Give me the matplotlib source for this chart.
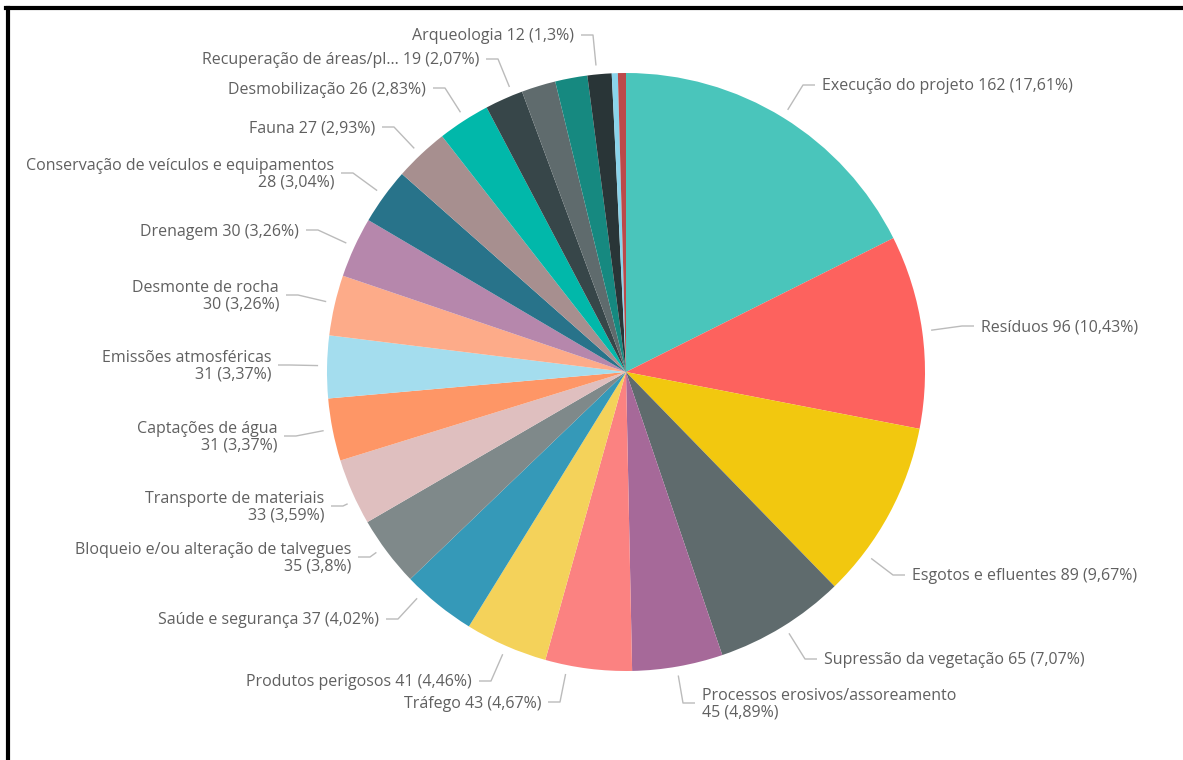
import matplotlib.pyplot as plt
from matplotlib.lines import Line2D

# categorias e contagens (ordem horária a partir do topo)
categorias = [
    "Execução do projeto", "Resíduos", "Esgotos e efluentes",
    "Supressão da vegetação", "Processos erosivos/assoreamento", "Tráfego",
    "Produtos perigosos", "Saúde e segurança",
    "Bloqueio e/ou alteração de talvegues", "Transporte de materiais",
    "Captações de água", "Emissões atmosféricas", "Desmonte de rocha",
    "Drenagem", "Conservação de veículos e equipamentos", "Fauna",
    "Desmobilização", "Recuperação de áreas/pl...", "", "", "Arqueologia",
    "", "",
]
valores = [162, 96, 89, 65, 45, 43, 41, 37, 35, 33, 31, 31, 30, 30, 28, 27,
           26, 19, 17, 16, 12, 3, 4]
cores = [
    "#4AC5BB", "#FD625E", "#F2C80F", "#5F6B6D", "#A66999", "#FB8281",
    "#F4D25A", "#3599B8", "#7F898A", "#DFBFBF", "#FE9666", "#A4DDEE",
    "#FDAB89", "#B687AC", "#28738A", "#A78F8F", "#01B8AA", "#374649",
    "#5F6B6D", "#168980", "#293537", "#8AD4EB", "#BB4A4A",
]
# rótulos em duas linhas
quebra = {"Processos erosivos/assoreamento", "Bloqueio e/ou alteração de talvegues",
          "Transporte de materiais", "Captações de água", "Emissões atmosféricas",
          "Desmonte de rocha", "Conservação de veículos e equipamentos"}

# cotovelo das linhas-guia (pixels) e lado do rótulo
cotovelos = {
    "Execução do projeto": (803, 85, "r"),
    "Resíduos": (962, 326, "r"),
    "Esgotos e efluentes": (893, 575, "r"),
    "Supressão da vegetação": (805, 659, "r"),
    "Processos erosivos/assoreamento": (683, 703, "r"),
    "Tráfego": (560, 702, "l"),
    "Produtos perigosos": (491, 681, "l"),
    "Saúde e segurança": (398, 619, "l"),
    "Bloqueio e/ou alteração de talvegues": (370, 557, "l"),
    "Transporte de materiais": (343, 506, "l"),
    "Captações de água": (296, 436, "l"),
    "Emissões atmosféricas": (290, 365, "l"),
    "Desmonte de rocha": (298, 295, "l"),
    "Drenagem": (318, 230, "l"),
    "Conservação de veículos e equipamentos": (353, 173, "l"),
    "Fauna": (394, 127, "l"),
    "Desmobilização": (445, 88, "l"),
    "Recuperação de áreas/pl...": (498, 59, "l"),
    "Arqueologia": (593, 35, "l"),
}

W, H = 1183, 760
CX, CY, R = 626, 372, 299


def px(x, y):
    return (x - CX) / R, (CY - y) / R


total = sum(valores)

fig = plt.figure(figsize=(W / 100, H / 100), dpi=100)
ax = fig.add_axes([0, 0, 1, 1])
ax.pie(valores, colors=cores, startangle=90, counterclock=False, radius=1,
       wedgeprops=dict(linewidth=0))
ax.set_xlim(-CX / R, (W - CX) / R)
ax.set_ylim((CY - H) / R, CY / R)
ax.set_aspect("equal")
ax.axis("off")

fonte = dict(family="Open Sans", fontsize=11.5, color="#606060")
for nome, v in zip(categorias, valores):
    if nome not in cotovelos:
        continue
    ex, ey, lado = cotovelos[nome]
    bx, by = px(ex, ey)
    d = (bx ** 2 + by ** 2) ** 0.5
    sx, sy = bx / d * 1.03, by / d * 1.03
    pct = f"{100 * v / total:.2f}".rstrip("0").rstrip(".").replace(".", ",")
    sep = "\n" if nome in quebra else " "
    txt = f"{nome}{sep}{v} ({pct}%)"
    sinal = 1 if lado == "r" else -1
    hx = bx + sinal * 12 / R
    ax.plot([sx, bx, hx], [sy, by, by], color="#BBBBBB", lw=1, solid_capstyle="butt")
    # leve ajuste vertical para centrar o texto na linha-guia
    ax.text(hx + sinal * 7 / R, by - 1.5 / R, txt,
            ha="left" if lado == "r" else "right",
            va="center", multialignment="left" if lado == "r" else "right",
            linespacing=1.05, **fonte)

# moldura preta (esquerda e topo)
fig.add_artist(Line2D([8 / W, 8 / W], [0, 1 - 8 / H], color="black", lw=3,
                      transform=fig.transFigure))
fig.add_artist(Line2D([6 / W, 1], [1 - 8 / H, 1 - 8 / H], color="black", lw=3,
                      transform=fig.transFigure))

fig.savefig("out.png", dpi=100, facecolor="white")
